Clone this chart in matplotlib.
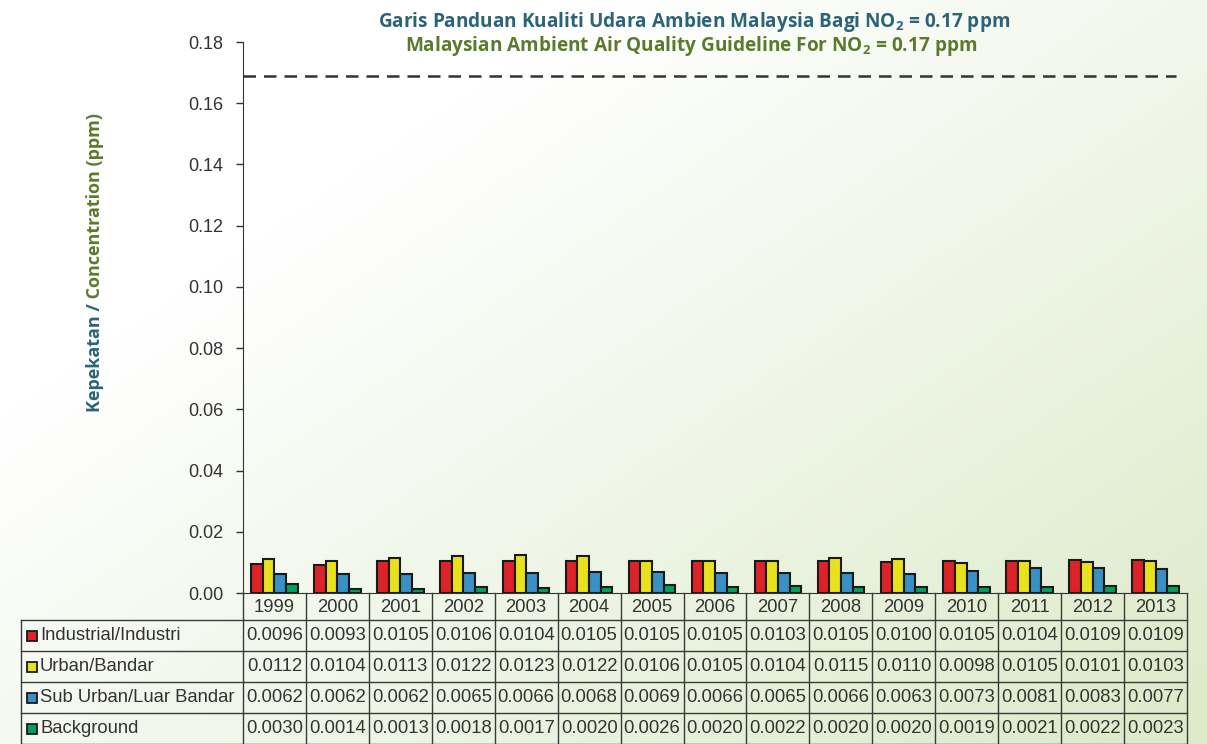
import numpy as np
import matplotlib
matplotlib.use("Agg")
import matplotlib.pyplot as plt
from matplotlib.transforms import blended_transform_factory
from matplotlib.patches import Rectangle

years = ["1999", "2000", "2001", "2002", "2003", "2004", "2005", "2006",
         "2007", "2008", "2009", "2010", "2011", "2012", "2013"]
series_names = ["Industrial/Industri", "Urban/Bandar",
                "Sub Urban/Luar Bandar", "Background"]
industrial = [0.0096, 0.0093, 0.0105, 0.0106, 0.0104, 0.0105, 0.0105, 0.0105,
              0.0103, 0.0105, 0.0100, 0.0105, 0.0104, 0.0109, 0.0109]
urban = [0.0112, 0.0104, 0.0113, 0.0122, 0.0123, 0.0122, 0.0106, 0.0105,
         0.0104, 0.0115, 0.0110, 0.0098, 0.0105, 0.0101, 0.0103]
suburban = [0.0062, 0.0062, 0.0062, 0.0065, 0.0066, 0.0068, 0.0069, 0.0066,
            0.0065, 0.0066, 0.0063, 0.0073, 0.0081, 0.0083, 0.0077]
background = [0.0030, 0.0014, 0.0013, 0.0018, 0.0017, 0.0020, 0.0026, 0.0020,
              0.0022, 0.0020, 0.0020, 0.0019, 0.0021, 0.0022, 0.0023]
guideline = 0.169
yticks = [0.00, 0.02, 0.04, 0.06, 0.08, 0.10, 0.12, 0.14, 0.16, 0.18]

series = [industrial, urban, suburban, background]
colors = ["#dc2328", "#e8e21e", "#3890c4", "#00a060"]
teal = "#2b6378"
olive = "#5b7a2c"
txt = "#333333"

plt.rcParams['mathtext.fontset'] = 'custom'
plt.rcParams['mathtext.rm'] = 'Open Sans:bold'
plt.rcParams['mathtext.bf'] = 'Open Sans:bold'
plt.rcParams['mathtext.it'] = 'Open Sans:bold'

W, H = 1207, 744
fig = plt.figure(figsize=(W / 100, H / 100), dpi=100)

# background gradient
bg = fig.add_axes([0, 0, 1, 1], zorder=-10)
xs = np.linspace(0, 1, 300)
ys = np.linspace(0, 1, 200)
X, Y = np.meshgrid(xs, ys)
t = np.clip((0.9 * X + 0.8 * Y - 0.45) / 1.2, 0, 1)
c0 = np.array([1.0, 1.0, 1.0])
c1 = np.array([221, 235, 203]) / 255
img = c0[None, None, :] * (1 - t[..., None]) + c1[None, None, :] * t[..., None]
bg.imshow(img, aspect='auto', extent=[0, 1, 0, 1], origin='upper')
bg.set_axis_off()

def fx(px):
    return px / W

def fy(py):
    return 1 - py / H

ax = fig.add_axes([fx(243), fy(593), fx(1187) - fx(243), fy(42) - fy(593)])
ax.set_facecolor('none')
n = len(years)
x = np.arange(n)
bw = 0.185
for i, (vals, col) in enumerate(zip(series, colors)):
    ax.bar(x + (i - 1.5) * bw, vals, width=bw, color=col, edgecolor='#1a1a1a',
           linewidth=1.5, zorder=3)
ax.axhline(guideline, xmin=0, xmax=0.988, color='#333333', lw=1.8,
           ls=(0, (5, 3.2)), zorder=2)
ax.set_xlim(-0.5, n - 0.5)
ax.set_ylim(0, 0.18)
ax.set_yticks(yticks)
ax.set_yticklabels([f"{v:.2f}" for v in yticks], fontsize=13,
                   family='Liberation Sans', color=txt)
ax.tick_params(axis='y', direction='out', length=5, width=1, color='#333333', pad=9)
ax.set_xticks([])
for s in ['top', 'right']:
    ax.spines[s].set_visible(False)
ax.spines['left'].set_color('#333333')
ax.spines['bottom'].set_color('#333333')

# table
tr = blended_transform_factory(ax.transData, fig.transFigure)
lc = '#3a3a3a'
row_tops = [593, 620, 651, 682, 713, 744]
fs = 13.3
for k, py in enumerate(row_tops[1:]):
    fig.add_artist(plt.Line2D([fx(21), fx(1187)], [fy(py), fy(py)], color=lc, lw=1))
fig.add_artist(plt.Line2D([fx(21), fx(21)], [fy(620), fy(744)], color=lc, lw=1))
for b in np.arange(n + 1) - 0.5:
    fig.add_artist(plt.Line2D([b, b], [fy(593), fy(744)], color=lc, lw=1,
                              transform=tr))
for i, yr in enumerate(years):
    fig.text(i, fy((593 + 620) / 2 + 1), yr, transform=tr, ha='center', va='center',
             fontsize=fs, family='Liberation Sans', color=txt)
for r, (name, vals, col) in enumerate(zip(series_names, series, colors)):
    yc = (row_tops[r + 1] + row_tops[r + 2]) / 2
    fig.add_artist(Rectangle((fx(27), fy(yc + 5)), fx(10), 10 / H,
                             facecolor=col, edgecolor='#1a1a1a', lw=1.3,
                             transform=fig.transFigure))
    fig.text(fx(40), fy(yc), name, ha='left', va='center', fontsize=fs,
             family='Liberation Sans', color=txt)
    for i, v in enumerate(vals):
        fig.text(i, fy(yc), f"{v:.4f}", transform=tr, ha='center', va='center',
                 fontsize=fs, family='Liberation Sans', color=txt)

# titles
fig.text(fx(694), fy(22), "Garis Panduan Kualiti Udara Ambien Malaysia Bagi NO$_2$ = 0.17 ppm",
         ha='center', va='center', fontsize=13.7, family='Open Sans',
         fontweight='bold', color=teal)
fig.text(fx(691), fy(46), "Malaysian Ambient Air Quality Guideline For NO$_2$ = 0.17 ppm",
         ha='center', va='center', fontsize=13.7, family='Open Sans',
         fontweight='bold', color=olive)

# y label in two colours
t1 = fig.text(fx(95), fy(412), "Kepekatan /", rotation=90, ha='center',
              va='bottom', fontsize=13, family='Open Sans', fontweight='bold',
              color=teal)
fig.canvas.draw()
bb = t1.get_window_extent()
t2 = fig.text(fx(95), (bb.y1) / fig.bbox.height, " Concentration (ppm)", rotation=90,
              ha='center', va='bottom', fontsize=13, family='Open Sans',
              fontweight='bold', color=olive)

fig.savefig("out.png", dpi=100)
